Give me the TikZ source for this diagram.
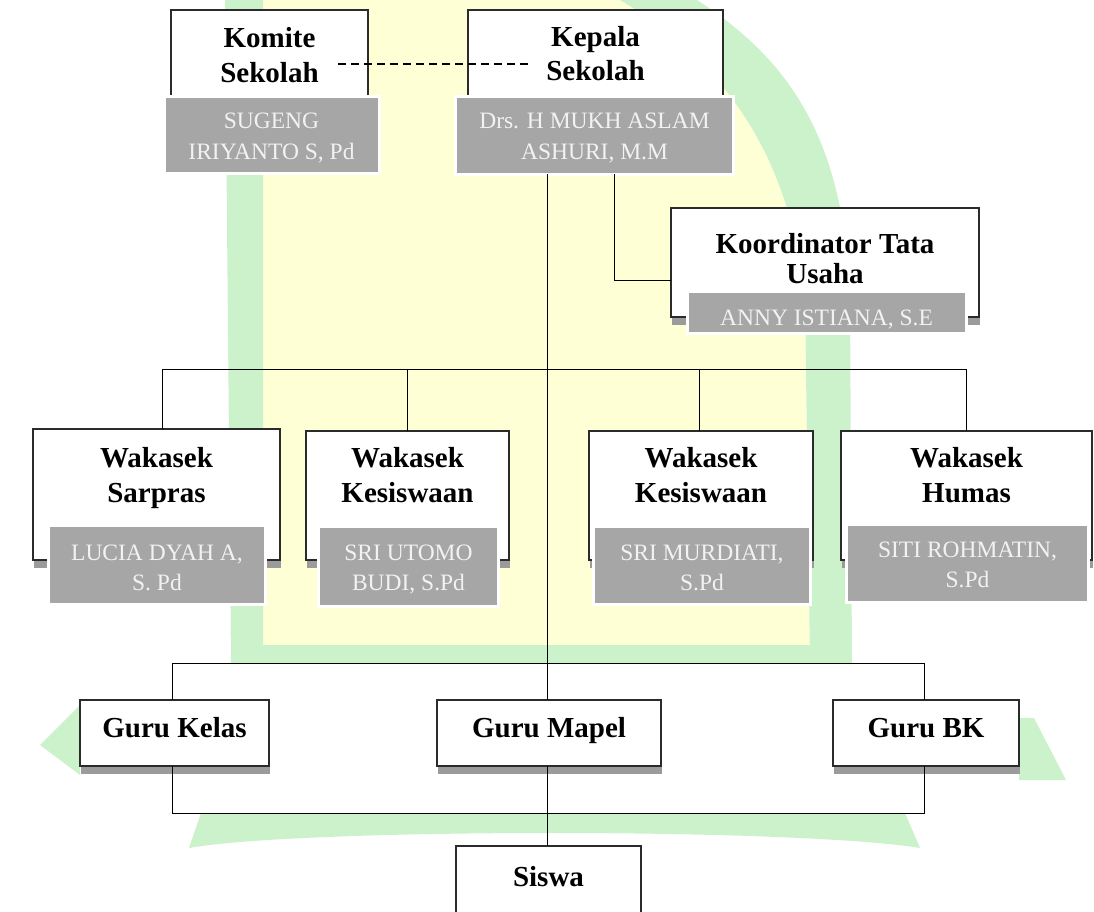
\documentclass[tikz,border=0pt]{standalone}
\usepackage{fontspec}
\setmainfont{Liberation Serif}
\usetikzlibrary{shadows}
\definecolor{wmG}{HTML}{CCF2CC}
\definecolor{wmY}{HTML}{FFFFD6}
\definecolor{nameg}{HTML}{A6A6A6}
\definecolor{shadowc}{HTML}{9B9B9B}
\definecolor{nametxt}{HTML}{F2F2F2}
\definecolor{edgec}{HTML}{2B2B2B}
\tikzset{
  post/.style={draw=edgec, line width=1.1pt, fill=white, inner sep=0pt, outer sep=0pt,
    drop shadow={shadow xshift=0.5pt, shadow yshift=-8pt, fill=shadowc, opacity=1}},
  namebox/.style={draw=white, line width=3pt, fill=nameg, inner sep=0pt, outer sep=0pt},
  ttl/.style={font=\fontsize{29}{34}\selectfont\bfseries, anchor=base, inner sep=0pt},
  nm/.style={font=\fontsize{23.5}{31}\selectfont, text=nametxt, anchor=base, inner sep=0pt},
  link/.style={draw=black, line width=1pt},
}
\begin{document}
\begin{tikzpicture}[x=1pt, y=-1pt]
\useasboundingbox (0,0) rectangle (1094,912);
\clip (0,0) rectangle (1094,912);
\fill[white] (0,0) rectangle (1094,912);
% watermark
\fill[wmY] (263,0) -- (263,663) -- (810,663) -- (805,300) .. controls (790,150) and (720,60) .. (620,0) -- cycle;
\fill[wmG] (225,0) -- (263,0) -- (263,663) -- (231,663) -- cycle;
\fill[wmG] (620,0) .. controls (720,60) and (790,150) .. (805,300) -- (810,663) -- (852,663) -- (850,300) .. controls (845,140) and (790,60) .. (697,0) -- cycle;
\fill[wmG] (231,645) -- (852,645) -- (852,663) -- (231,663) -- cycle;
\fill[wmG] (40,745) -- (80,705) -- (80,775) -- cycle;
\fill[wmG] (1019,718) -- (1034,718) -- (1066,780) -- (1019,780) -- cycle;
\fill[wmG] (201,813) -- (905,813) -- (920,848) .. controls (800,828) and (300,828) .. (189,848) -- cycle;
\fill[white] (172,663) rectangle (924,813);
% top level
\node[post, minimum width=197pt, minimum height=100pt] (kom) at (269.5,60) {};
\node[post, minimum width=255pt, minimum height=100pt] (kep) at (595.5,60) {};
\node[namebox, minimum width=214.5pt, minimum height=77pt] (komG) at (271.75,135.5) {};
\node[namebox, minimum width=278.5pt, minimum height=78pt] (kepG) at (594.25,135.5) {};
\node[ttl] (komA) at (269.5,48) {Komite};
\node[ttl] (komB) at (269.5,83) {Sekolah};
\node[ttl] (kepA) at (595.5,47) {Kepala};
\node[ttl] (kepB) at (595.5,81) {Sekolah};
\node[nm] (komN1) at (271.5,129) {SUGENG};
\node[nm] (komN2) at (271.5,160) {IRIYANTO S, Pd};
\node[nm] (kepN1) at (594.5,129) {Drs. H MUKH ASLAM};
\node[nm] (kepN2) at (594.5,160) {ASHURI, M.M};
% koordinator
\node[post, minimum width=308pt, minimum height=109pt] (koor) at (825,262.5) {};
\node[namebox, minimum width=279pt, minimum height=42pt] (koorG) at (826.5,312) {};
\node[ttl] (koorA) at (825,253) {Koordinator Tata};
\node[ttl] (koorB) at (825,283) {Usaha};
\node[nm] (koorN) at (826.5,325) {ANNY ISTIANA, S.E};
% wakasek
\node[post, minimum width=247pt, minimum height=131pt] (sar) at (156.5,494.5) {};
\node[post, minimum width=203pt, minimum height=129pt] (kes1) at (407.5,495.5) {};
\node[post, minimum width=224pt, minimum height=129pt] (kes2) at (701,495.5) {};
\node[post, minimum width=251pt, minimum height=129pt] (hum) at (966.5,495.5) {};
\node[namebox, minimum width=217pt, minimum height=79pt] (sarG) at (157,565.3) {};
\node[namebox, minimum width=180pt, minimum height=80pt] (kes1G) at (408.5,566.5) {};
\node[namebox, minimum width=217pt, minimum height=78pt] (kes2G) at (702,565.5) {};
\node[namebox, minimum width=242pt, minimum height=78pt] (humG) at (967.5,563.5) {};
\node[ttl] (sarA) at (156.5,467) {Wakasek};
\node[ttl] (sarB) at (156.5,502) {Sarpras};
\node[ttl] (kes1A) at (407.5,467) {Wakasek};
\node[ttl] (kes1B) at (407.5,502) {Kesiswaan};
\node[ttl] (kes2A) at (701,467) {Wakasek};
\node[ttl] (kes2B) at (701,502) {Kesiswaan};
\node[ttl] (humA) at (966.5,467) {Wakasek};
\node[ttl] (humB) at (966.5,502) {Humas};
\node[nm] (sarN1) at (157,560) {LUCIA DYAH A,};
\node[nm] (sarN2) at (157,590) {S. Pd};
\node[nm] (kes1N1) at (408.5,560) {SRI UTOMO};
\node[nm] (kes1N2) at (408.5,590) {BUDI, S.Pd};
\node[nm] (kes2N1) at (702,560) {SRI MURDIATI,};
\node[nm] (kes2N2) at (702,590) {S.Pd};
\node[nm] (humN1) at (967.5,557) {SITI ROHMATIN,};
\node[nm] (humN2) at (967.5,587) {S.Pd};
% guru
\node[post, minimum width=189pt, minimum height=66pt] (kelas) at (174.5,733) {};
\node[post, minimum width=224pt, minimum height=66pt] (mapel) at (549,733) {};
\node[post, minimum width=186pt, minimum height=66pt] (bk) at (926,733) {};
\node[ttl] (kelasT) at (174.5,737) {Guru Kelas};
\node[ttl] (mapelT) at (549,737) {Guru Mapel};
\node[ttl] (bkT) at (926,737) {Guru BK};
% siswa
\node[post, minimum width=185pt, minimum height=70pt] (siswa) at (548.5,881) {};
\node[ttl] (siswaT) at (548.5,886) {Siswa};
% connectors
\coordinate (trunk) at (547,0);
\coordinate (tu) at (614,280);
\coordinate (wbar) at (0,369);
\coordinate (gtop) at (0,663);
\coordinate (gbot) at (0,813);
\coordinate (dashL) at (338,64);
\coordinate (dashR) at (529,64);
\draw[link, line width=1.5pt, dash pattern=on 8pt off 5pt] (dashL) -- (dashR);
\draw[link] (trunk |- kepG.south) -- (trunk |- mapel.north);
\draw[link] (trunk |- mapel.south) -- (trunk |- siswa.north);
\draw[link] (tu |- kepG.south) -- (tu) -- (koor.west |- tu);
\draw[link] ([xshift=5.5pt]sar.north) -- ([xshift=5.5pt]sar.north |- wbar) -- (hum.north |- wbar) -- (hum.north);
\draw[link] (kes1.north) -- (kes1.north |- wbar);
\draw[link] ([xshift=-2pt]kes2.north) -- ([xshift=-2pt]kes2.north |- wbar);
\draw[link] ([xshift=-2.5pt]kelas.north) -- ([xshift=-2.5pt]kelas.north |- gtop) -- ([xshift=-2pt]bk.north |- gtop) -- ([xshift=-2pt]bk.north);
\draw[link] ([xshift=-2.5pt]kelas.south) -- ([xshift=-2.5pt]kelas.south |- gbot) -- ([xshift=-2pt]bk.south |- gbot) -- ([xshift=-2pt]bk.south);
\end{tikzpicture}
\end{document}
